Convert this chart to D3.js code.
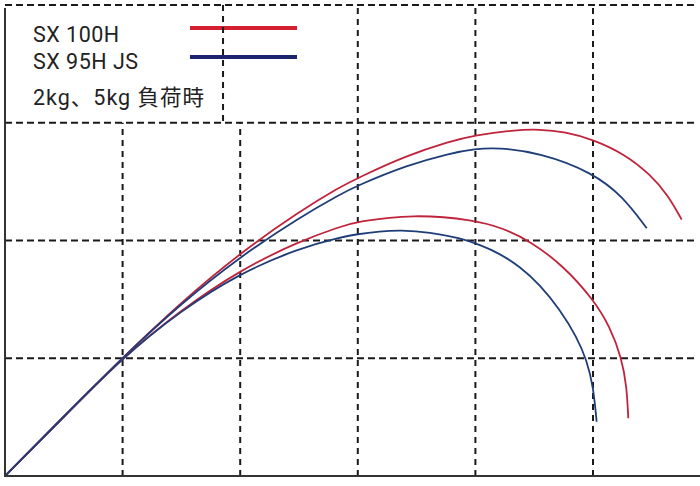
<!DOCTYPE html>
<html>
<head>
<meta charset="utf-8">
<script src="https://cdn.jsdelivr.net/npm/d3@7"></script>
<style>
  html, body { margin: 0; padding: 0; background: #fff; }
  svg { display: block; }
  .legend text { font-family: Roboto, "Noto Sans CJK JP", sans-serif; fill: #222; }
</style>
</head>
<body>
<div id="chart"></div>
<script>
// series names and load note
var seriesNames = ['SX 100H', 'SX 95H JS'];
var loadNote = '2kg、5kg 負荷時';

// grid units: x 0..6, y 0..4
var xGrid = [1, 2, 3, 4, 5];
var yGrid = [1, 2, 3, 4];

// curves, [x, y] in grid units
var sx100h2kg = [
  [0, 0], [0.497, 0.501], [0.995, 1.002], [1.497, 1.475], [1.998, 1.893],
  [2.508, 2.25], [2.849, 2.454], [2.993, 2.528], [3.416, 2.722], [3.784, 2.842],
  [3.997, 2.894], [4.32, 2.938], [4.549, 2.945], [4.762, 2.924], [5.0, 2.859],
  [5.272, 2.732], [5.485, 2.562], [5.638, 2.386], [5.754, 2.177]
];
var sx95hjs2kg = [
  [0, 0], [0.497, 0.501], [0.995, 1.002], [1.497, 1.465], [1.998, 1.862],
  [2.508, 2.198], [2.849, 2.392], [2.993, 2.465], [3.416, 2.639], [3.784, 2.741],
  [3.997, 2.777], [4.184, 2.79], [4.549, 2.745], [5.0, 2.576], [5.255, 2.372],
  [5.457, 2.104]
];
var sx100h5kg = [
  [0, 0], [0.497, 0.501], [0.995, 1.002], [1.497, 1.41], [1.998, 1.749],
  [2.508, 1.996], [2.849, 2.117], [2.993, 2.16], [3.469, 2.225], [3.997, 2.174],
  [4.235, 2.104], [4.464, 1.996], [4.745, 1.788], [5.0, 1.503], [5.145, 1.268],
  [5.244, 1.0], [5.287, 0.758], [5.3, 0.49]
];
var sx95hjs5kg = [
  [0, 0], [0.497, 0.501], [0.995, 1.002], [1.497, 1.406], [1.998, 1.724],
  [2.508, 1.936], [2.849, 2.025], [2.993, 2.054], [3.189, 2.078], [3.359, 2.089],
  [3.614, 2.071], [3.869, 2.02], [4.039, 1.964], [4.209, 1.888], [4.379, 1.778],
  [4.549, 1.625], [4.719, 1.412], [4.861, 1.183], [4.946, 0.985], [5.003, 0.758],
  [5.031, 0.461]
];

var red = '#c0243c', blue = '#1f3e78';
var legendRed = '#d42030', legendBlue = '#1c2470';

var vWidth = 700, vHeight = 486;

var svg = d3.select('#chart')
  .append('svg')
  .attr('width', vWidth)
  .attr('height', vHeight);

var x = d3.scaleLinear().domain([0, 6]).range([5, 710.6]);
var y = d3.scaleLinear().domain([0, 4]).range([476, 5]);

var grid = svg.append('g')
  .attr('stroke', '#1a1a1a')
  .attr('stroke-width', 2)
  .attr('fill', 'none');

// horizontal dashed lines
grid.selectAll('.hline')
  .data(yGrid)
  .enter()
  .append('line')
  .attr('x1', x(0))
  .attr('x2', 696)
  .attr('y1', function(d) { return y(d); })
  .attr('y2', function(d) { return y(d); })
  .attr('stroke-dasharray', '7,4');

// vertical dashed lines: first two stop below the legend
grid.selectAll('.vline')
  .data(xGrid)
  .enter()
  .append('line')
  .attr('x1', function(d) { return x(d); })
  .attr('x2', function(d) { return x(d); })
  .attr('y1', y(0))
  .attr('y2', function(d) { return d < 3 ? y(3) : y(4); })
  .attr('stroke-dasharray', '6,5');

// legend area
var legend = svg.append('g').attr('class', 'legend');

legend.selectAll('line.key')
  .data(seriesNames)
  .enter()
  .append('line')
  .attr('class', 'key')
  .attr('x1', 190)
  .attr('x2', 297)
  .attr('y1', function(d, i) { return 28 + i * 29; })
  .attr('y2', function(d, i) { return 28 + i * 29; })
  .attr('stroke', function(d, i) { return i === 0 ? legendRed : legendBlue; })
  .attr('stroke-width', 4);

legend.selectAll('text.name')
  .data(seriesNames)
  .enter()
  .append('text')
  .attr('class', 'name')
  .attr('x', 33)
  .attr('y', function(d, i) { return 42 + i * 26.5; })
  .style('font-size', '21.5px')
  .style('letter-spacing', '0.5px')
  .text(function(d) { return d; });

legend.append('text')
  .attr('x', 33)
  .attr('y', 105)
  .style('font-size', '21.5px')
  .style('letter-spacing', '1px')
  .text(loadNote);

// divider beside the legend
svg.append('line')
  .attr('x1', x(1.854))
  .attr('x2', x(1.854))
  .attr('y1', y(4))
  .attr('y2', y(3))
  .attr('stroke', '#1a1a1a')
  .attr('stroke-width', 2)
  .attr('stroke-dasharray', '6,5');

// curves
var line = d3.line()
  .x(function(d) { return x(d[0]); })
  .y(function(d) { return y(d[1]); })
  .curve(d3.curveBasis);

var curves = [
  { data: sx100h2kg, color: red },
  { data: sx95hjs2kg, color: blue },
  { data: sx100h5kg, color: red },
  { data: sx95hjs5kg, color: blue }
];

svg.selectAll('.curve')
  .data(curves)
  .enter()
  .append('path')
  .attr('class', 'curve')
  .attr('d', function(d) { return line(d.data); })
  .attr('fill', 'none')
  .attr('stroke', function(d) { return d.color; })
  .attr('stroke-width', 1.8);

// solid axes
svg.append('line')
  .attr('x1', x(0)).attr('x2', x(0))
  .attr('y1', 8).attr('y2', y(0) + 1)
  .attr('stroke', '#333').attr('stroke-width', 2);

svg.append('line')
  .attr('x1', x(0) - 1).attr('x2', 700)
  .attr('y1', y(0)).attr('y2', y(0))
  .attr('stroke', '#333').attr('stroke-width', 2);
</script>
</body>
</html>
